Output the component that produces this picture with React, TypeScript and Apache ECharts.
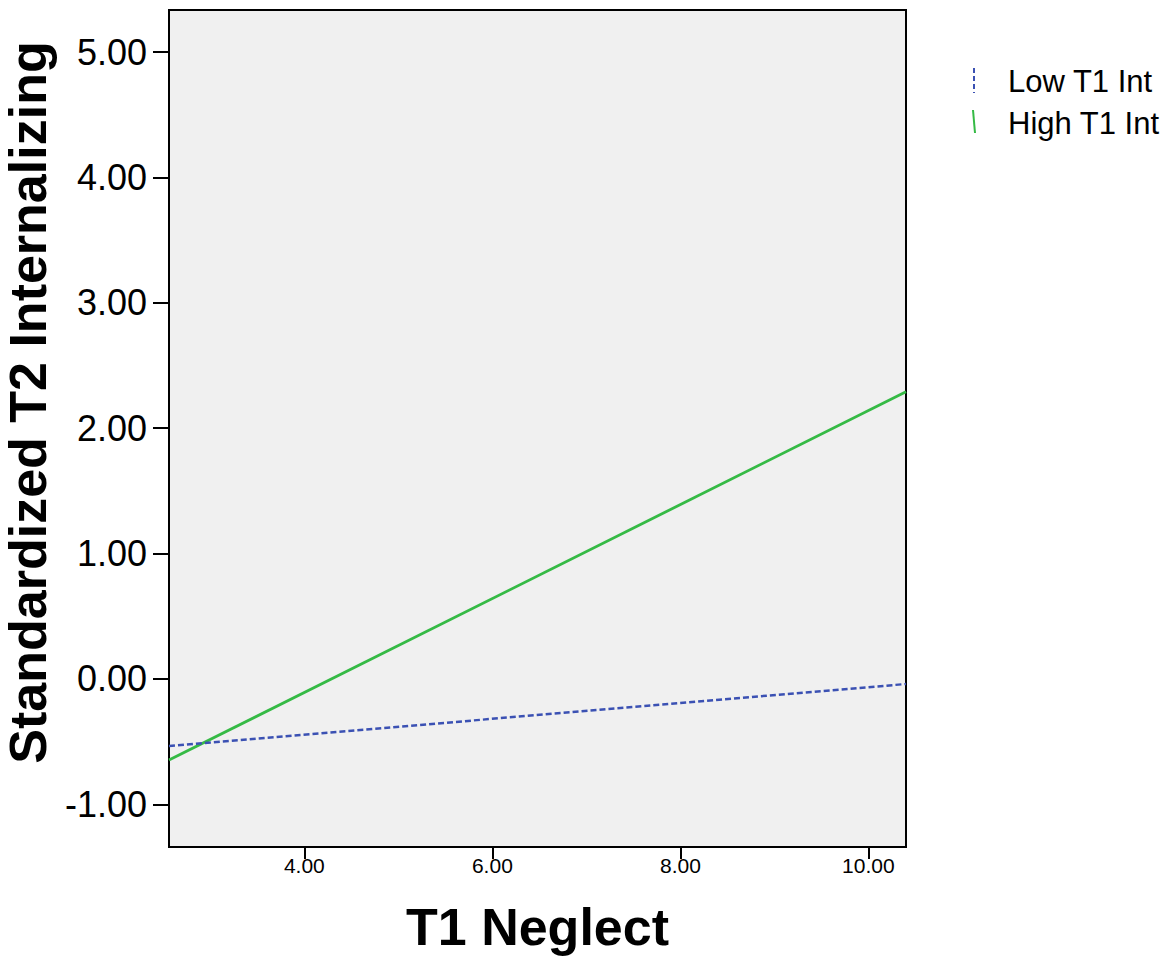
import React, { useEffect, useRef } from "react";
import * as echarts from "echarts";

const seriesNames = ["Low T1 Int", "High T1 Int"];
const neglectRange = [2.56, 10.4];
const lowInt = [-0.535, -0.04];
const highInt = [-0.647, 2.29];
const xTicks = [4, 6, 8, 10];
const yTicks = [-1, 0, 1, 2, 3, 4, 5];
const yRange = [-1.34, 5.335];

const FONT = "'Liberation Sans', Arial, sans-serif";
const BLUE = "#3b51b3";
const GREEN = "#35ba45";

export default function App() {
  const ref = useRef<HTMLDivElement>(null);
  useEffect(() => {
    if (!ref.current) return;
    const chart = echarts.init(ref.current, undefined, { renderer: "svg" });
    const fmt = (v: number) => v.toFixed(2);
    chart.setOption({
      animation: false,
      backgroundColor: "#ffffff",
      textStyle: { fontFamily: FONT },
      grid: {
        left: 169,
        top: 10,
        right: 263,
        bottom: 110,
        containLabel: false,
        outerBoundsMode: "none",
        show: true,
        backgroundColor: "#f0f0f0",
        borderColor: "#000",
        borderWidth: 2,
      },
      xAxis: {
        type: "value",
        min: neglectRange[0],
        max: neglectRange[1],
        name: "T1 Neglect",
        nameLocation: "middle",
        nameGap: 54,
        nameTextStyle: { fontSize: 52, fontWeight: "bold", color: "#000", fontFamily: FONT },
        axisLine: { show: true, onZero: false, lineStyle: { color: "#000", width: 2 } },
        axisTick: { show: true, length: 12, lineStyle: { color: "#000", width: 2 }, customValues: xTicks },
        axisLabel: { fontSize: 21, color: "#000", margin: 8, formatter: fmt, customValues: xTicks, fontFamily: FONT },
        splitLine: { show: false },
      },
      yAxis: {
        type: "value",
        min: yRange[0],
        max: yRange[1],
        name: "Standardized T2 Internalizing",
        nameLocation: "middle",
        nameGap: 106,
        nameTextStyle: {
          fontSize: 52,
          fontWeight: "bold",
          color: "#000",
          fontFamily: FONT,
          padding: [0, 0, 0, 52],
        },
        axisLine: { show: true, onZero: false, lineStyle: { color: "#000", width: 2 } },
        axisTick: { show: true, length: 16, lineStyle: { color: "#000", width: 2 }, customValues: yTicks },
        axisLabel: { fontSize: 36, color: "#000", margin: 22, formatter: fmt, customValues: yTicks, fontFamily: FONT },
        splitLine: { show: false },
      },
      series: [
        {
          name: seriesNames[0],
          type: "line",
          symbol: "none",
          data: neglectRange.map((x, i) => [x, lowInt[i]]),
          lineStyle: { color: BLUE, width: 2.5, type: [6, 3] },
          z: 3,
        },
        {
          name: seriesNames[1],
          type: "line",
          symbol: "none",
          data: neglectRange.map((x, i) => [x, highInt[i]]),
          lineStyle: { color: GREEN, width: 2.8 },
          z: 2,
        },
      ],
      graphic: [
        {
          type: "line",
          shape: { x1: 974, y1: 68, x2: 974, y2: 93 },
          style: { stroke: BLUE, lineWidth: 2, lineDash: [5, 3] },
        },
        {
          type: "line",
          shape: { x1: 973, y1: 110, x2: 975, y2: 133 },
          style: { stroke: GREEN, lineWidth: 2 },
        },
        {
          type: "text",
          x: 1008,
          y: 81,
          style: { text: seriesNames[0], font: `31px ${FONT}`, fill: "#000", textVerticalAlign: "middle" },
        },
        {
          type: "text",
          x: 1008,
          y: 123,
          style: { text: seriesNames[1], font: `31px ${FONT}`, fill: "#000", textVerticalAlign: "middle" },
        },
      ],
    });
    return () => chart.dispose();
  }, []);
  return (
    <div
      ref={ref}
      style={{ position: "fixed", left: 0, top: 0, width: 1169, height: 957 }}
    />
  );
}
